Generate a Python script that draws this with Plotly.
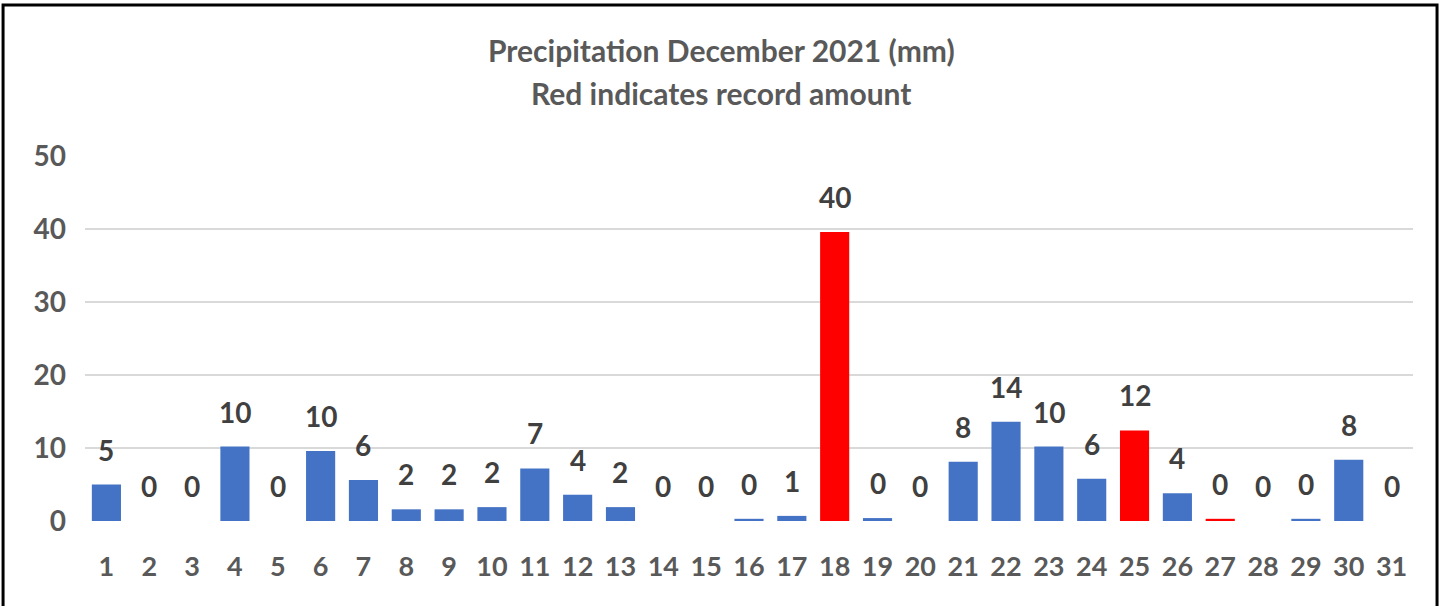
import plotly.graph_objects as go

days = [str(d) for d in range(1, 32)]
precip_mm = [5.0, 0.0, 0.0, 10.2, 0.0, 9.6, 5.6, 1.6, 1.6, 1.9,
             7.2, 3.6, 1.9, 0.0, 0.0, 0.3, 0.7, 39.6, 0.4, 0.0,
             8.1, 13.6, 10.2, 5.8, 12.4, 3.8, 0.3, 0.0, 0.3, 8.4, 0.0]
record_days = ["18", "25", "27"]
labels = [str(int(v + 0.5)) for v in precip_mm]
y_ticks = [0, 10, 20, 30, 40, 50]

BLUE = "#4472C4"
RED = "#FF0000"
FONT = "Lato, sans-serif"

colors = [RED if d in record_days else BLUE for d in days]

fig = go.Figure()
fig.add_trace(go.Bar(x=days, y=precip_mm, marker=dict(color=colors, line=dict(width=0)),
                     hoverinfo="x+y"))

for i, (v, lab) in enumerate(zip(precip_mm, labels)):
    fig.add_annotation(x=i, y=v, text=lab, showarrow=False,
                       yanchor="bottom", yshift=16,
                       font=dict(family=FONT, size=28, color="#404040", weight="bold"))

fig.add_annotation(xref="paper", yref="paper", x=0.479, y=1.290,
                   text="Precipitation December 2021 (mm)", showarrow=False,
                   yanchor="middle", font=dict(family=FONT, size=30, color="#595959", weight="bold"))
fig.add_annotation(xref="paper", yref="paper", x=0.479, y=1.1726,
                   text="Red indicates record amount", showarrow=False,
                   yanchor="middle", font=dict(family=FONT, size=30, color="#595959", weight="bold"))

fig.add_shape(type="rect", xref="paper", yref="paper",
              x0=-0.0617, x1=1.0181, y0=-0.4, y1=1.4137,
              line=dict(color="black", width=3), layer="above")

fig.update_layout(
    width=1442, height=606,
    margin=dict(l=85, r=29, t=156, b=85),
    paper_bgcolor="white", plot_bgcolor="white",
    bargap=0.32, showlegend=False,
    font=dict(family=FONT, color="#595959"),
    xaxis=dict(type="category", tickfont=dict(family=FONT, size=27, color="#595959", weight="bold"),
               ticklabelstandoff=27, showgrid=False, zeroline=False, showline=False,
               range=[-0.5, 30.5]),
    yaxis=dict(range=[0, 50], tickvals=y_ticks, showgrid=True, gridcolor="#D9D9D9",
               gridwidth=2, zeroline=False, showline=False,
               tickfont=dict(family=FONT, size=28, color="#595959", weight="bold"),
               ticklabelstandoff=18),
)

fig.write_html("out.html", config={"displayModeBar": False},
               post_script="document.body.style.margin='0';")
